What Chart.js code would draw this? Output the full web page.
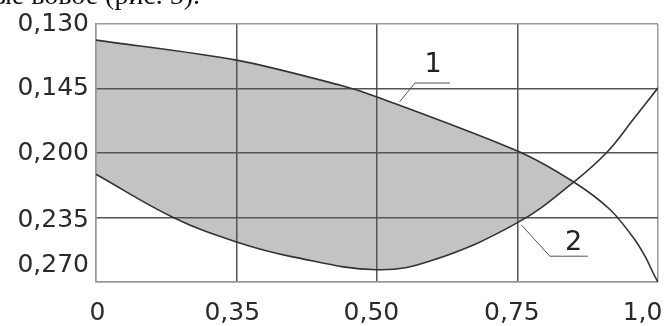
<!DOCTYPE html>
<html>
<head>
<meta charset="utf-8">
<script src="https://cdn.jsdelivr.net/npm/chart.js@4.4.1/dist/chart.umd.min.js"></script>
<style>
  html, body { margin: 0; padding: 0; background: #fff; overflow: hidden; }
  #wrap { position: relative; width: 668px; height: 326px; overflow: hidden; }
  #caption { position: absolute; left: -22px; top: -19px; font: 28px/28px "Liberation Serif", serif; color: #111; white-space: nowrap; }
</style>
</head>
<body>
<div id="wrap">
  <div id="caption">ные вовое (рис. 5).</div>
  <canvas id="chart"></canvas>
</div>
<script>
// Axes are drawn in equal steps (index units); the printed values are not linear
const xTickLabels = ['0', '0,35', '0,50', '0,75', '1,0'];
const yTickLabels = ['0,130', '0,145', '0,200', '0,235', '0,270'];
const xLabelPos = [0.01, 0.97, 1.96, 2.96, 3.89];
const yLabelPos = [0, 1, 2, 3.04, 3.75];

// curve 1 (upper boundary)
const curve1X = [0, 1, 1.74, 2, 3, 3.4, 3.66, 3.82, 3.91, 3.97, 4];
const curve1Y = [0.25, 0.56, 0.95, 1.13, 1.97, 2.45, 2.88, 3.3, 3.61, 3.88, 4];

// curve 2 (lower boundary)
const curve2X = [0, 0.55, 1, 1.4, 2, 2.4, 3, 3.4, 3.64, 3.82, 4];
const curve2Y = [2.33, 3.0, 3.38, 3.61, 3.81, 3.66, 3.08, 2.45, 1.98, 1.49, 0.99];

// curve numbers with their leader lines (data units)
const curveNames = ['1', '2'];
const namePos = [[2.4, 0.64], [3.4, 3.4]];
const leaders = [
  [[2.16, 1.21], [2.27, 0.915], [2.52, 0.915]],
  [[3.03, 3.12], [3.23, 3.6], [3.5, 3.6]]
];

const toPoints = (xs, ys) => xs.map((x, i) => ({ x, y: ys[i] }));

const frame = '#9a9a9a';
const grid = '#555';

const textPlugin = {
  id: 'textPlugin',
  afterDraw(chart) {
    const { ctx, chartArea, scales: { x, y } } = chart;
    ctx.save();
    ctx.fillStyle = '#2a2a2a';
    ctx.font = '25px "DejaVu Sans"';
    ctx.textBaseline = 'middle';
    ctx.textAlign = 'center';
    xTickLabels.forEach((t, i) => ctx.fillText(t, x.getPixelForValue(xLabelPos[i]), chartArea.bottom + 31));
    ctx.textAlign = 'right';
    yTickLabels.forEach((t, i) => ctx.fillText(t, chartArea.left - 7, y.getPixelForValue(yLabelPos[i])));

    // leader lines
    ctx.strokeStyle = '#555';
    ctx.lineWidth = 1;
    leaders.forEach(pts => {
      ctx.beginPath();
      pts.forEach((p, i) => {
        const px = x.getPixelForValue(p[0]), py = y.getPixelForValue(p[1]);
        i ? ctx.lineTo(px, py) : ctx.moveTo(px, py);
      });
      ctx.stroke();
    });
    ctx.fillStyle = '#222';
    ctx.font = '27px "DejaVu Sans"';
    ctx.textAlign = 'center';
    curveNames.forEach((t, i) => ctx.fillText(t, x.getPixelForValue(namePos[i][0]), y.getPixelForValue(namePos[i][1])));
    ctx.restore();
  }
};

new Chart(document.getElementById('chart'), {
  type: 'line',
  data: {
    datasets: [
      {
        label: '1',
        data: toPoints(curve1X, curve1Y),
        borderColor: '#333',
        borderWidth: 1.6,
        pointRadius: 0,
        tension: 0.3,
        fill: { target: 1, above: '#c3c3c3', below: 'rgba(0,0,0,0)' }
      },
      {
        label: '2',
        data: toPoints(curve2X, curve2Y),
        borderColor: '#333',
        borderWidth: 1.6,
        pointRadius: 0,
        tension: 0.4,
        fill: false
      }
    ]
  },
  options: {
    responsive: true,
    maintainAspectRatio: false,
    animation: false,
    layout: { padding: { left: 96, right: 10, top: 24, bottom: 44 } },
    plugins: {
      legend: { display: false },
      tooltip: { enabled: false },
      filler: { drawTime: 'beforeDraw' }
    },
    scales: {
      x: {
        type: 'linear', min: 0, max: 4,
        ticks: { stepSize: 1, display: false },
        grid: { color: c => (c.tick && (c.tick.value === 0 || c.tick.value === 4)) ? frame : grid, lineWidth: 1.5, drawTicks: false },
        border: { color: frame, width: 1.5 }
      },
      y: {
        type: 'linear', min: 0, max: 4, reverse: true,
        ticks: { stepSize: 1, display: false },
        grid: { color: c => (c.tick && (c.tick.value === 0 || c.tick.value === 4)) ? frame : grid, lineWidth: 1.5, drawTicks: false },
        border: { color: frame, width: 1.5 }
      }
    }
  },
  plugins: [textPlugin]
});
</script>
</body>
</html>
